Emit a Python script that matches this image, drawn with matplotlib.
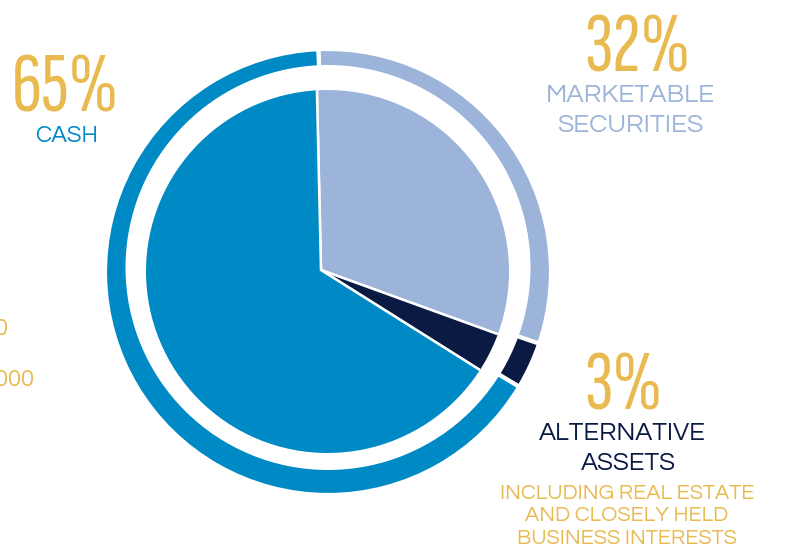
import matplotlib
matplotlib.use("Agg")
import matplotlib.pyplot as plt
from matplotlib.patches import Circle

# ---- data ----
categories = ["Marketable Securities", "Alternative Assets", "Cash"]
slice_values = [30.9, 3.4, 65.7]          # shares as drawn
pct_labels = ["32%", "3%", "65%"]
name_lines = [["MARKETABLE", "SECURITIES"], ["ALTERNATIVE", "ASSETS"], ["CASH"]]
note_lines = ["INCLUDING REAL ESTATE", "AND CLOSELY HELD", "BUSINESS INTERESTS"]
side_labels = ["0", "000"]
colors = ["#9DB4DA", "#0A1A42", "#008AC5"]
GOLD = "#E8BA4F"

W, H = 785, 554
fig = plt.figure(figsize=(W / 100, H / 100), dpi=100)
ax = fig.add_axes([0, 0, 1, 1])

def Y(y):
    return H - y

# outer ring
ring, _ = ax.pie(slice_values, colors=colors, startangle=92.5, counterclock=False,
                 center=(328, Y(272)), radius=223,
                 wedgeprops=dict(edgecolor="white", linewidth=3))
for w in ring:
    w.set_zorder(1)
ax.add_patch(Circle((328, Y(267.5)), 202.5, facecolor="white", edgecolor="none", zorder=2))

# inner pie (apex slightly off the circle centre), clipped to the circle
inner, _ = ax.pie(slice_values, colors=colors, startangle=91.3, counterclock=False,
                  center=(321, Y(270)), radius=260,
                  wedgeprops=dict(edgecolor="white", linewidth=1.8))
clip = Circle((327.5, Y(271.5)), 181.5, transform=ax.transData)
for w in inner:
    w.set_zorder(3)
    w.set_clip_on(True)
    w.set_clip_path(clip)

ax.set_xlim(0, W)
ax.set_ylim(0, H)
ax.set_aspect("auto")
ax.axis("off")

BIG = ["Sofia Sans Extra Condensed", "DejaVu Sans"]
SANS = ["Questrial", "DejaVu Sans"]
bigfont = dict(family=BIG, fontsize=61, fontweight="medium", color=GOLD, ha="center", va="baseline")

# percentages
ax.text(65, Y(112), pct_labels[2], **bigfont)
ax.text(637, Y(72), pct_labels[0], **bigfont)
ax.text(623, Y(410), pct_labels[1], **bigfont)

# category names
ax.text(67, Y(142), name_lines[2][0], ha="center", va="baseline", family=SANS, fontsize=17, color=colors[2])
ax.text(630, Y(102), name_lines[0][0], ha="center", va="baseline", family=SANS, fontsize=19, color=colors[0])
ax.text(630, Y(132), name_lines[0][1], ha="center", va="baseline", family=SANS, fontsize=19, color=colors[0])
ax.text(622, Y(440), name_lines[1][0], ha="center", va="baseline", family=SANS, fontsize=18.5, color=colors[1])
ax.text(628, Y(470), name_lines[1][1], ha="center", va="baseline", family=SANS, fontsize=18.5, color=colors[1])
for txt, yb in zip(note_lines, [499, 521, 544]):
    ax.text(627, Y(yb), txt, ha="center", va="baseline", family=SANS, fontsize=15.5, color=GOLD)

# partially visible labels at the left edge
ax.text(7.5, Y(335), side_labels[0], ha="right", va="baseline", family=SANS, fontsize=17, color=GOLD)
ax.text(33.5, Y(386), side_labels[1], ha="right", va="baseline", family=SANS, fontsize=17, color=GOLD)

fig.savefig("out.png", dpi=100)
